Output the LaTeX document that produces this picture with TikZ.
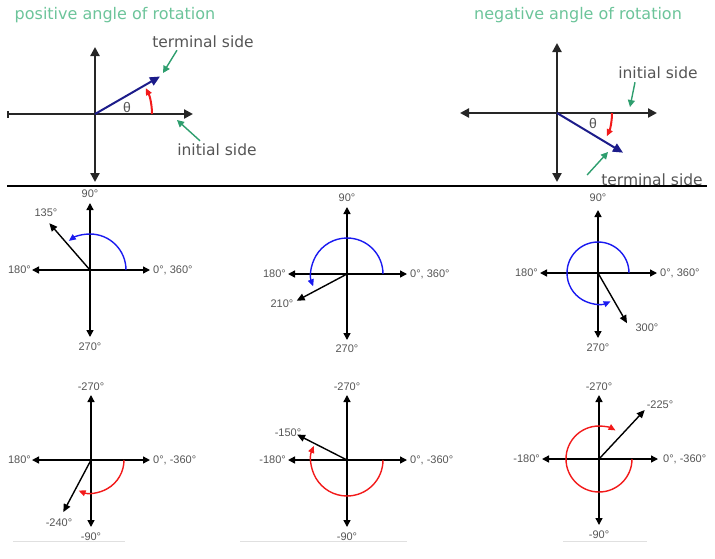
\documentclass[tikz,border=0pt]{standalone}
\usepackage{fontspec}
\setmainfont{Liberation Sans}
\newfontfamily\titlefont{DejaVu Sans}
\usepackage{xcolor}
\usetikzlibrary{arrows.meta}
\definecolor{labelgray}{HTML}{555555}
\definecolor{titlegreen}{HTML}{6CC49A}
\definecolor{pointgreen}{HTML}{2E9E6E}
\definecolor{navy}{HTML}{1C1C8A}
\definecolor{rotblue}{HTML}{1A1AF0}
\definecolor{rotred}{HTML}{F21A1A}

\begin{document}
\begin{tikzpicture}[
    x=1pt, y=1pt,
    every node/.style={inner sep=0pt, text=labelgray, font=\fontsize{11}{13}\selectfont},
    axis/.style={line width=1.4pt, {Triangle[length=7pt,width=7pt]}-{Triangle[length=7pt,width=7pt]}},
    bigaxis/.style={line width=2.2pt, black!85, {Triangle[length=9pt,width=9pt]}-{Triangle[length=9pt,width=9pt]}},
    ray/.style={line width=1.4pt, -{Triangle[length=8pt,width=7pt]}},
    bigray/.style={line width=2pt, navy, -{Triangle[length=10pt,width=9pt]}},
    bluearc/.style={line width=1.4pt, rotblue, -{Triangle[length=7pt,width=6pt]}},
    redarc/.style={line width=1.4pt, rotred, -{Triangle[length=7pt,width=6pt]}},
    pointer/.style={line width=1.4pt, pointgreen, -{Triangle[length=7pt,width=7pt]}},
    title/.style={text=titlegreen, font=\titlefont\fontsize{16}{19}\selectfont},
    side/.style={font=\titlefont\fontsize{15.5}{18}\selectfont},
    theta/.style={font=\fontsize{14}{16}\selectfont}
]
    \useasboundingbox (0,0) rectangle (715,-558);

    % Positive rotation
    \node[title] (postitle) at (115,-15) {positive angle of rotation};
    \coordinate (pos) at (95,-114);
    \draw[bigaxis] (95,-47) -- (95,-182);
    \draw[bigaxis, {Bar[width=7pt]}-{Triangle[length=9pt,width=9pt]}] (7,-114) -- (193,-114);
    \draw[bigray] (pos) -- ++(30:75) coordinate (posend);
    \draw[redarc, line width=2pt] ([xshift=57]pos) arc[start angle=0, end angle=27, radius=57];
    \node[theta] (postheta) at (127,-107) {θ};
    \node[side] (posterm) at (203,-42) {terminal side};
    \node[side] (posinit) at (217,-150) {initial side};
    \draw[pointer] ([xshift=-26,yshift=-2]posterm.south) -- (163,-73);
    \draw[pointer] ([xshift=-17,yshift=3]posinit.north) -- (177,-120);

    % Negative rotation
    \node[title] (negtitle) at (578,-15) {negative angle of rotation};
    \coordinate (neg) at (557,-113);
    \draw[bigaxis] (557,-43) -- (557,-182);
    \draw[bigaxis] (460,-113) -- (657,-113);
    \draw[bigray] (neg) -- ++(-31:77) coordinate (negend);
    \draw[redarc, line width=2pt] ([xshift=55]neg) arc[start angle=0, end angle=-25, radius=55];
    \node[theta] (negtheta) at (593,-123) {θ};
    \node[side] (neginit) at (658,-73) {initial side};
    \node[side] (negterm) at (652,-180) {terminal side};
    \draw[pointer] ([xshift=-23,yshift=-3]neginit.south) -- (630,-107);
    \draw[pointer] ([xshift=-14,yshift=5]negterm.west) -- (608,-152);

    % Middle row
    \coordinate (a135) at (90,-270);
    \draw[axis] (90,-203) -- (90,-337);
    \draw[axis] (32,-270) -- (150,-270);
    \draw[ray] (a135) -- ++(131:62);
    \draw[bluearc] ([xshift=36]a135) arc[start angle=0, end angle=126, radius=36];
    \node (a135n) at (90,-194) {90°};
    \node[anchor=east] (a135w) at (31,-270) {180°};
    \node[anchor=west] (a135e) at (153,-270) {0°, 360°};
    \node (a135s) at (90,-347) {270°};
    \node (a135l) at (46,-213) {135°};

    \coordinate (a210) at (347,-274);
    \draw[axis] (347,-207) -- (347,-340);
    \draw[axis] (288,-274) -- (407,-274);
    \draw[ray] (a210) -- ++(208:57);
    \draw[bluearc] ([xshift=36]a210) arc[start angle=0, end angle=200, radius=36];
    \node (a210n) at (347,-198) {90°};
    \node[anchor=east] (a210w) at (286,-274) {180°};
    \node[anchor=west] (a210e) at (410,-274) {0°, 360°};
    \node (a210s) at (347,-349) {270°};
    \node (a210l) at (282,-304) {210°};

    \coordinate (a300) at (598,-273);
    \draw[axis] (598,-210) -- (598,-338);
    \draw[axis] (540,-273) -- (657,-273);
    \draw[ray] (a300) -- ++(300:58);
    \draw[bluearc] ([xshift=31]a300) arc[start angle=0, end angle=294, radius=31];
    \node (a300n) at (598,-198) {90°};
    \node[anchor=east] (a300w) at (538,-273) {180°};
    \node[anchor=west] (a300e) at (660,-273) {0°, 360°};
    \node (a300s) at (598,-348) {270°};
    \node (a300l) at (647,-328) {300°};

    % Bottom row
    \coordinate (m240) at (91,-460);
    \draw[axis] (91,-395) -- (91,-527);
    \draw[axis] (32,-460) -- (150,-460);
    \draw[ray] (m240) -- ++(242:59);
    \draw[redarc] ([xshift=33]m240) arc[start angle=0, end angle=-112, radius=33];
    \node (m240n) at (91,-387) {-270°};
    \node[anchor=east] (m240w) at (31,-460) {180°};
    \node[anchor=west] (m240e) at (153,-460) {0°, -360°};
    \node (m240s) at (91,-537) {-90°};
    \node (m240l) at (59,-523) {-240°};

    \coordinate (m150) at (347,-460);
    \draw[axis] (347,-395) -- (347,-527);
    \draw[axis] (288,-460) -- (407,-460);
    \draw[ray] (m150) -- ++(153:56);
    \draw[redarc] ([xshift=36]m150) arc[start angle=0, end angle=-203, radius=36];
    \node (m150n) at (347,-387) {-270°};
    \node[anchor=east] (m150w) at (286,-460) {-180°};
    \node[anchor=west] (m150e) at (410,-460) {0°, -360°};
    \node (m150s) at (347,-537) {-90°};
    \node (m150l) at (288,-433) {-150°};

    \coordinate (m225) at (599,-459);
    \draw[axis] (599,-395) -- (599,-525);
    \draw[axis] (542,-459) -- (658,-459);
    \draw[ray] (m225) -- ++(47:67);
    \draw[redarc] ([xshift=33]m225) arc[start angle=0, end angle=-300, radius=33];
    \node (m225n) at (599,-387) {-270°};
    \node[anchor=east] (m225w) at (540,-459) {-180°};
    \node[anchor=west] (m225e) at (663,-459) {0°, -360°};
    \node (m225s) at (599,-535) {-90°};
    \node (m225l) at (660,-405) {-225°};

    % Rules
    \draw[black!12, line width=0.6pt] (13,-541) -- (125,-541);
    \draw[black!12, line width=0.6pt] (240,-541) -- (407,-541);
    \draw[black!12, line width=0.6pt] (563,-541) -- (647,-541);
    \draw[line width=2pt] (7,-186) -- (707,-186);
\end{tikzpicture}
\end{document}
